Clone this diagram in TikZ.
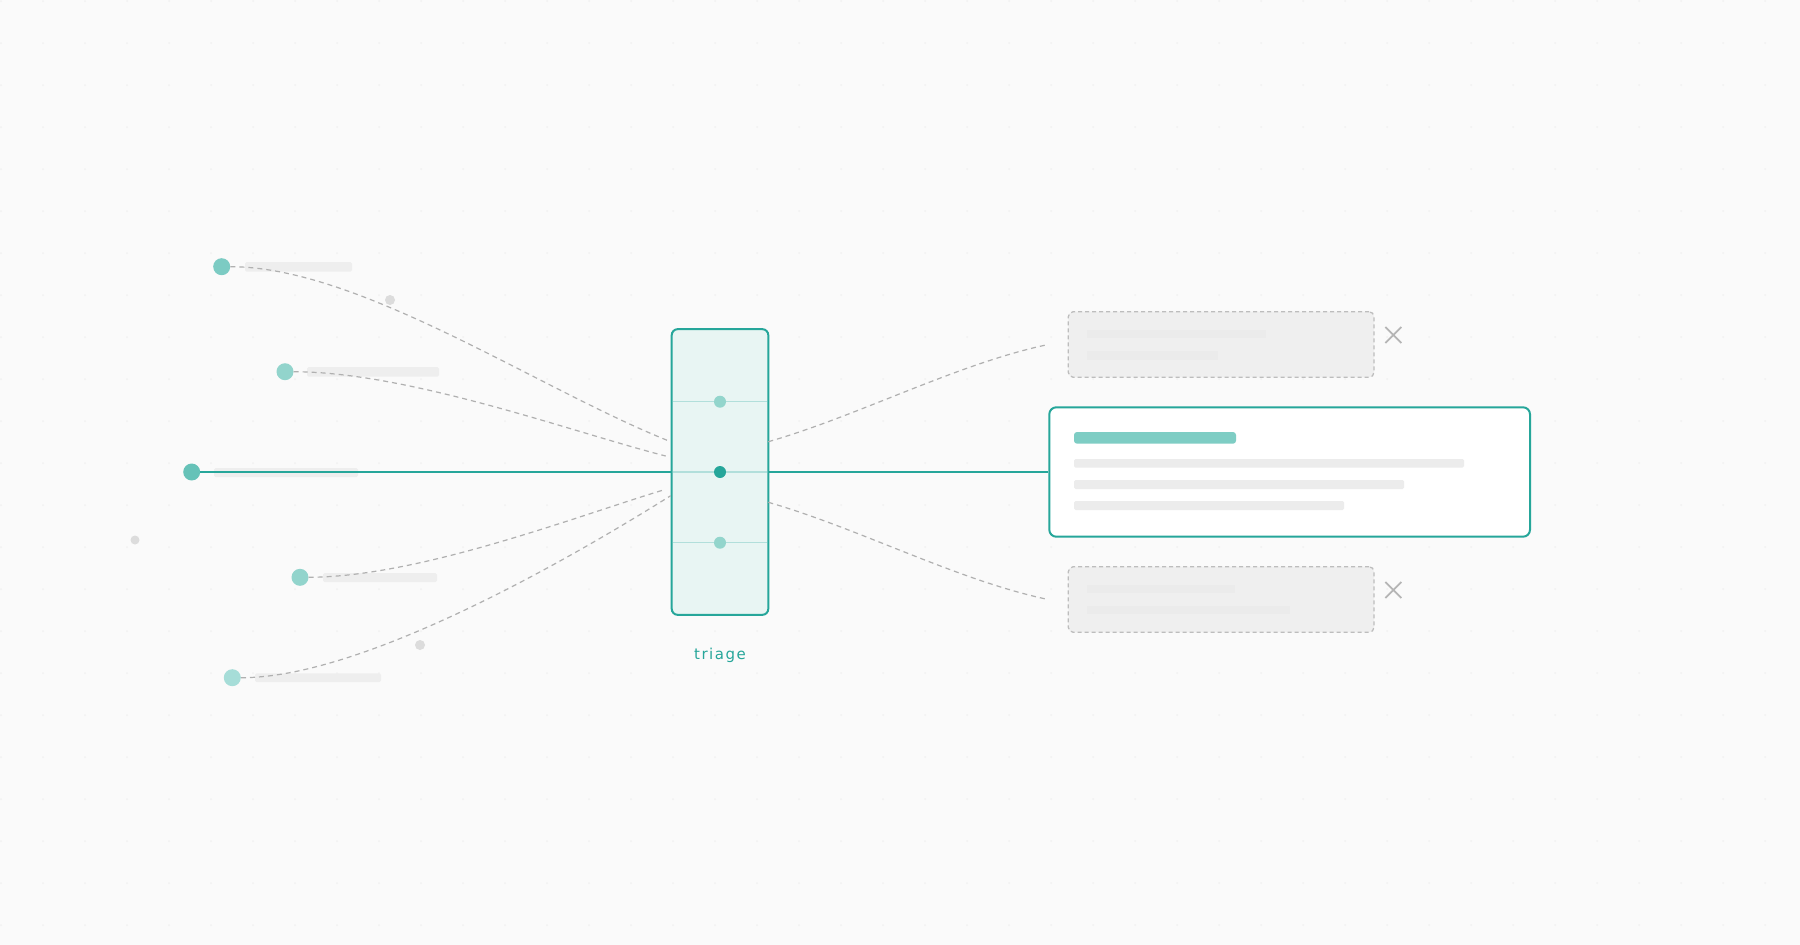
\documentclass[tikz,border=0pt]{standalone}
\usepackage{fontspec}
\setmainfont{DejaVu Sans}
\newfontfamily\tagfont[LetterSpace=10]{DejaVu Sans}
\usepackage{tikz}

\definecolor{bgc}{HTML}{FAFAFA}
\definecolor{gridc}{HTML}{F1F1F1}
\definecolor{tealc}{HTML}{26A69A}
\definecolor{srcA}{HTML}{7CCBC3}
\definecolor{srcB}{HTML}{92D4CC}
\definecolor{srcC}{HTML}{66C2B8}
\definecolor{srcD}{HTML}{A6DDD8}
\definecolor{blobc}{HTML}{DCDCDC}
\definecolor{barc}{HTML}{EEEEEE}
\definecolor{wirec}{HTML}{B0B0B0}
\definecolor{ghostfill}{HTML}{EFEFEF}
\definecolor{ghostline}{HTML}{BDBDBD}
\definecolor{ghostbar}{HTML}{EBEBEB}
\definecolor{cardbar}{HTML}{ECECEC}
\definecolor{tealbar}{HTML}{7ECDC4}
\definecolor{triagefill}{HTML}{E8F5F3}
\definecolor{dividerc}{HTML}{B2DFDB}
\definecolor{dotlight}{HTML}{93D5CC}
\definecolor{xc}{HTML}{B5B5B5}

\begin{document}
\begin{tikzpicture}[x=1pt,y=-1pt,
  srcdot/.style={circle,inner sep=0pt,minimum size=17pt},
  blob/.style={circle,fill=blobc,inner sep=0pt,minimum size=10pt},
  wire/.style={draw=wirec,line width=1.2pt,dash pattern=on 5pt off 4pt},
  mainwire/.style={draw=tealc,line width=2pt},
  bar/.style={fill=barc,rounded corners=1.5pt},
  ghost/.style={draw=ghostline,fill=ghostfill,line width=1.3pt,dash pattern=on 4pt off 3pt,
    rounded corners=5pt,minimum width=305.7pt,minimum height=65.6pt,inner sep=0pt},
  xmark/.style={draw=xc,line width=1.8pt},
  divider/.style={draw=dividerc,line width=1.5pt}]

% background and dot grid
\fill[bgc] (0,0) rectangle (1800,945);
\foreach \i in {0,...,42}
  \foreach \j in {0,...,22}
    \fill[gridc] (42*\i+1,42*\j+1) circle (1);

% label bars next to the sources
\fill[bar] (245,262) rectangle (352,271.5);
\fill[bar] (307,367) rectangle (439,376.5);
\fill[bar] (214,468) rectangle (358,477);
\fill[bar] (323,573) rectangle (437,582);
\fill[bar] (255,673.3) rectangle (381,682);

% sources
\node[srcdot,fill=srcA] (src1) at (221.7,266.7) {};
\node[srcdot,fill=srcB] (src2) at (285,371.7) {};
\node[srcdot,fill=srcC] (src3) at (191.7,472) {};
\node[srcdot,fill=srcB] (src4) at (300,577.3) {};
\node[srcdot,fill=srcD] (src5) at (232.3,677.7) {};

\node[blob] (blob1) at (390,300) {};
\node[blob,minimum size=9pt] (blob2) at (135,540) {};
\node[blob] (blob3) at (420,645) {};

% triage box
\node[draw=tealc,fill=triagefill,line width=2pt,rounded corners=6pt,inner sep=0pt,
  minimum width=96.6pt,minimum height=285.7pt] (triage) at (720,472) {};
\draw[divider] (673,401.7) -- (767,401.7);
\draw[divider] (673,472) -- (767,472);
\draw[divider] (673,542.7) -- (767,542.7);
\node[circle,fill=dotlight,inner sep=0pt,minimum size=12pt] (gate1) at (720,401.7) {};
\node[circle,fill=tealc,inner sep=0pt,minimum size=12pt] (gate2) at (720,472) {};
\node[circle,fill=dotlight,inner sep=0pt,minimum size=12pt] (gate3) at (720,542.7) {};
\node[text=tealc,font=\tagfont\fontsize{15}{18}\selectfont] (tag) at (720,655) {triage};

% outputs
\node[draw=tealc,fill=white,line width=2pt,rounded corners=7pt,inner sep=0pt,
  minimum width=480.7pt,minimum height=129.4pt] (card) at (1289.65,472) {};
\fill[tealbar,rounded corners=3pt] (1074,432) rectangle (1236,443.7);
\fill[cardbar,rounded corners=1.5pt] (1074,459) rectangle (1464,467.7);
\fill[cardbar,rounded corners=1.5pt] (1074,480) rectangle (1404,489);
\fill[cardbar,rounded corners=1.5pt] (1074,501) rectangle (1344,510);

\node[ghost] (alt1) at (1221.15,344.5) {};
\fill[ghostbar] (1086.7,330) rectangle (1266,338.3);
\fill[ghostbar] (1086.7,351) rectangle (1217.7,360);
\node[ghost] (alt2) at (1221.15,599.5) {};
\fill[ghostbar] (1086.7,585) rectangle (1235,593.3);
\fill[ghostbar] (1086.7,606) rectangle (1290,614.3);

\draw[xmark] (1385.3,327) -- (1401.3,343) (1385.3,343) -- (1401.3,327);
\draw[xmark] (1385.3,582) -- (1401.3,598) (1385.3,598) -- (1401.3,582);

% ends on the triage box
\coordinate (in1) at (670.7,441.7);
\coordinate (in2) at (665.7,456);
\coordinate (in4) at (665.7,489.3);
\coordinate (in5) at (670.7,495.7);
\coordinate (out1) at (768.3,441.7);
\coordinate (out2) at (768.3,502.3);

% connectors
\draw[wire] (src1.east) .. controls (360,266.7) and (540,390) .. (in1);
\draw[wire] (src2.east) .. controls (410,372) and (575,433) .. (in2);
\draw[wire] (src4.east) .. controls (420,577) and (580,515) .. (in4);
\draw[wire] (src5.east) .. controls (360,678) and (560,565) .. (in5);
\draw[wire] (out1) .. controls (858,416) and (959,363) .. (card.west |- alt1);
\draw[wire] (out2) .. controls (858,528) and (959,581) .. (card.west |- alt2);

\draw[mainwire] (src3) -- (triage);
\draw[mainwire] (triage) -- (card);
\end{tikzpicture}
\end{document}
